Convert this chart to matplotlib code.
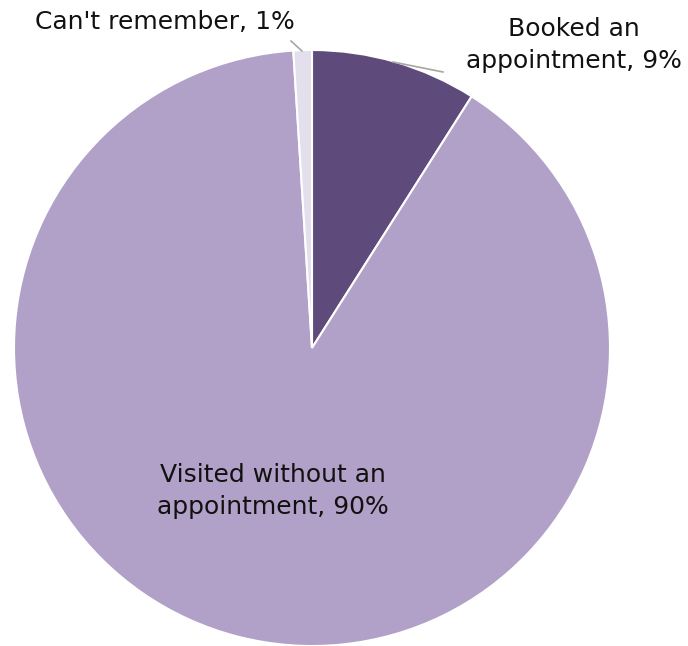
import matplotlib
matplotlib.use("Agg")
import matplotlib.pyplot as plt

# Data
labels = ["Booked an\nappointment", "Visited without an\nappointment", "Can't remember"]
shares = [9, 90, 1]
colors = ["#5f4a7c", "#b1a0c7", "#e4dfec"]

W, H = 688, 646
fig = plt.figure(figsize=(W / 100, H / 100), dpi=100)
ax = fig.add_axes([0, 0, 1, 1])

cx, cy, r = 312, H - 348, 298
wedges, _ = ax.pie(shares, colors=colors, startangle=90, counterclock=False,
                   center=(cx, cy), radius=r, frame=True,
                   wedgeprops=dict(edgecolor="white", linewidth=1.5))
ax.set_xlim(0, W)
ax.set_ylim(0, H)
ax.axis("off")

font = dict(family="DejaVu Sans", fontsize=18, color="#111111")

def txt(i, x, y):
    ax.text(x, H - y, f"{labels[i]}, {shares[i]}%", ha="center", va="center",
            linespacing=1.4, **font)

txt(0, 574, 45)
txt(1, 273, 491)
txt(2, 165, 22)

# leader lines
ax.plot([393, 443], [H - 62, H - 72], color="#a6a6a6", lw=1.2)
ax.plot([291, 302], [H - 41, H - 51], color="#a6a6a6", lw=1.2)

fig.savefig("out.png", dpi=100)
